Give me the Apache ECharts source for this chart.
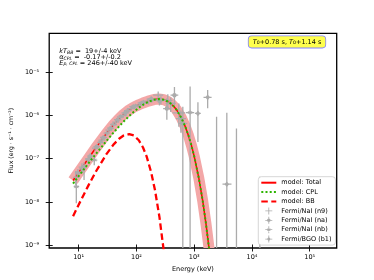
<!DOCTYPE html>
<html><head><meta charset="utf-8">
<script src="https://cdn.jsdelivr.net/npm/echarts@6/dist/echarts.min.js"></script>
<style>html,body{margin:0;padding:0;background:#fff}#c{width:374px;height:280px}</style>
</head><body><div id="c"></div>
<script>
// ---- axis limits (keV, flux) and tick exponents ----
const xLimits = [3.09, 2.93e5];
const yLimits = [8.57e-10, 8.0e-5];
const xTickExp = [1, 2, 3, 4, 5];
const yTickExp = [-9, -8, -7, -6, -5];

// ---- models ----
const modelE   = [8, 10, 15, 20, 30, 40, 50, 60, 75, 90, 110, 130, 160, 200, 246, 300, 350, 400, 450, 500, 600, 700, 800, 900, 1000, 1200, 1400, 1600, 1800, 2000];
const totalFlux= [3.13e-8, 4.81e-8, 1.051e-7, 1.817e-7, 3.80e-7, 6.12e-7, 8.47e-7, 1.068e-6, 1.345e-6, 1.563e-6, 1.777e-6, 1.952e-6, 2.156e-6, 2.336e-6, 2.403e-6, 2.31e-6, 2.11e-6, 1.856e-6, 1.59e-6, 1.325e-6, 8.8e-7, 5.54e-7, 3.36e-7, 1.98e-7, 1.14e-7, 3.6e-8, 1.08e-8, 3.1e-9, 8.7e-10, 2.4e-10];
const cplFlux  = [2.66e-8, 3.95e-8, 8.0e-8, 1.305e-7, 2.54e-7, 4.0e-7, 5.58e-7, 7.24e-7, 9.73e-7, 1.217e-6, 1.51e-6, 1.77e-6, 2.07e-6, 2.31e-6, 2.40e-6, 2.31e-6, 2.11e-6, 1.856e-6, 1.59e-6, 1.325e-6, 8.8e-7, 5.54e-7, 3.36e-7, 1.98e-7, 1.14e-7, 3.6e-8, 1.08e-8, 3.1e-9, 8.7e-10, 2.4e-10];
const bbE      = [8, 10, 15, 20, 30, 40, 50, 60, 75, 90, 110, 130, 150, 180, 210, 250, 300, 330];
const bbFlux   = [4.67e-9, 8.6e-9, 2.51e-8, 5.12e-8, 1.256e-7, 2.12e-7, 2.89e-7, 3.44e-7, 3.72e-7, 3.46e-7, 2.67e-7, 1.82e-7, 1.13e-7, 4.82e-8, 1.84e-8, 4.5e-9, 6.7e-10, 2.0e-10];

// ---- data: Fermi/NaI (n9) ----
const n9E     = [8.9, 11.4, 14.9, 19.3, 25.3, 33.2, 43.6, 58.3, 80.3, 113, 162, 238, 349, 542];
const n9Edges = [8, 10, 13, 17, 22, 29, 38, 50, 68, 95, 135, 195, 290, 420, 700];
const n9F     = [3.7e-8, 6.4e-8, 1.0e-7, 1.75e-7, 2.7e-7, 4.6e-7, 7.0e-7, 1.0e-6, 1.45e-6, 1.75e-6, 2.15e-6, 2.95e-6, 2.25e-6, 1.15e-6];
const n9Lo    = [2.4e-8, 5.0e-8, 8.3e-8, 1.5e-7, 2.35e-7, 4.0e-7, 6.1e-7, 8.8e-7, 1.27e-6, 1.5e-6, 1.8e-6, 2.3e-6, 1.5e-6, 5.5e-7];
const n9Hi    = [5.2e-8, 7.8e-8, 1.18e-7, 2.0e-7, 3.05e-7, 5.2e-7, 7.9e-7, 1.13e-6, 1.63e-6, 2.0e-6, 2.5e-6, 3.6e-6, 3.1e-6, 1.9e-6];
// ---- Fermi/NaI (na) ----
const naE     = [9.7, 12.4, 15.9, 20.6, 27, 35.7, 47.5, 64.2, 88.7, 125.5, 180, 250, 336, 455, 635];
const naEdges = [8.6, 11, 14, 18, 23.5, 31, 41, 55, 75, 105, 150, 215, 290, 390, 530, 760];
const naF     = [4.7e-8, 6.5e-8, 1.15e-7, 1.9e-7, 3.1e-7, 5.1e-7, 8.0e-7, 1.15e-6, 1.6e-6, 1.95e-6, 2.4e-6, 2.2e-6, 1.45e-6, 2.95e-6, 6.6e-7];
const naLo    = [3.6e-8, 3.2e-8, 9.5e-8, 1.65e-7, 2.7e-7, 4.5e-7, 7.1e-7, 1.02e-6, 1.42e-6, 1.7e-6, 2.0e-6, 1.7e-6, 8.0e-7, 1.75e-6, 1e-11];
const naHi    = [5.8e-8, 8.3e-8, 1.35e-7, 2.15e-7, 3.5e-7, 5.7e-7, 8.9e-7, 1.28e-6, 1.78e-6, 2.2e-6, 2.8e-6, 2.7e-6, 2.5e-6, 4.6e-6, 1.6e-6];
// ---- Fermi/NaI (nb) ----
const nbE     = [9.1, 11.5, 14.6, 18.6, 23.8, 30.7, 40.1, 53, 70.7, 95.8, 131.8, 184.7, 265, 392, 588, 849];
const nbEdges = [8.2, 10.2, 13, 16.5, 21, 27, 35, 46, 61, 82, 112, 155, 220, 320, 480, 720, 1000];
const nbF     = [2.25e-8, 5.8e-8, 9.5e-8, 9.3e-8, 2.4e-7, 3.9e-7, 6.2e-7, 9.3e-7, 1.3e-6, 1.65e-6, 2.0e-6, 2.35e-6, 2.3e-6, 1.9e-6, 8.5e-7, 1.17e-6];
const nbLo    = [9.3e-9, 4.6e-8, 8.0e-8, 7.1e-8, 2.05e-7, 3.4e-7, 5.5e-7, 8.3e-7, 1.16e-6, 1.46e-6, 1.75e-6, 2.0e-6, 1.8e-6, 1.2e-6, 4.0e-7, 1e-11];
const nbHi    = [3.2e-8, 7.0e-8, 1.1e-7, 1.15e-7, 2.75e-7, 4.4e-7, 6.9e-7, 1.03e-6, 1.44e-6, 1.84e-6, 2.25e-6, 2.7e-6, 2.8e-6, 2.6e-6, 1.3e-6, 4.7e-6];
// ---- Fermi/BGO (b1) ----
const b1E     = [1160, 1710, 2440, 3670, 5390, 13700];
const b1ELo   = [1030, 1450, 2100, 3090, 4600, 11500];
const b1EHi   = [1300, 2000, 2850, 4420, 6300, 16500];
const b1F     = [1.12e-6, 2.63e-6, 3e-10, 2.57e-8, 3e-10, 3e-10];
const b1Lo    = [2.45e-7, 1.48e-6, 1e-11, 1e-11, 1e-11, 1e-11];
const b1Hi    = [2.04e-6, 3.9e-6, 9.3e-7, 1.16e-6, 5.0e-7, 3.8e-8];

const L = Math.log10;
const FONT = 'DejaVu Sans';
const GRAY = '#ababab';
const SUP = {'0':'⁰','1':'¹','2':'²','3':'³','4':'⁴','5':'⁵','6':'⁶','7':'⁷','8':'⁸','9':'⁹','-':'⁻'};
const pow10 = v => '10' + String(Math.round(v)).split('').map(c => SUP[c]).join('');

function pts(E, F) { return E.map((e, i) => [L(e), L(F[i])]); }
function errData(E, F, lo, hi, eLo, eHi) {
  return E.map((e, i) => [L(e), L(F[i]), L(lo[i]), L(hi[i]), L(eLo[i]), L(eHi[i])]);
}
function makeErr(marker) {
  return function (params, api) {
    const p = api.coord([api.value(0), api.value(1)]);
    const a = api.coord([api.value(0), api.value(2)]);
    const b = api.coord([api.value(0), api.value(3)]);
    const l = api.coord([api.value(4), api.value(1)]);
    const r = api.coord([api.value(5), api.value(1)]);
    const st = {stroke: GRAY, lineWidth: 1.3};
    const ch = [
      {type: 'line', shape: {x1: a[0], y1: a[1], x2: b[0], y2: b[1]}, style: st},
      {type: 'line', shape: {x1: l[0], y1: l[1], x2: r[0], y2: r[1]}, style: st}
    ];
    const x = p[0], y = p[1];
    if (marker === 'circle') ch.push({type: 'circle', shape: {cx: x, cy: y, r: 2.2}, style: {fill: GRAY}});
    if (marker === 'diamond') ch.push({type: 'polygon', shape: {points: [[x, y - 2.8], [x + 2.3, y], [x, y + 2.8], [x - 2.3, y]]}, style: {fill: GRAY}});
    if (marker === 'star') {
      const s = [];
      for (let k = 0; k < 12; k++) {
        const ang = k * Math.PI / 6, rr = k % 2 ? 1.2 : 3;
        s.push([x + rr * Math.sin(ang), y - rr * Math.cos(ang)]);
      }
      ch.push({type: 'polygon', shape: {points: s}, style: {fill: GRAY}});
    }
    return {type: 'group', children: ch};
  };
}

const PLUS = 'M0,4.4H10V5.6H0Z M4.4,0H5.6V10H4.4Z';
const icons = {
  n9: 'path://' + PLUS,
  na: 'path://' + PLUS + ' M7.6,5A2.6,2.6 0 1 1 2.4,5A2.6,2.6 0 1 1 7.6,5Z',
  nb: 'path://' + PLUS + ' M5,1.8L5.8,3.6L7.8,3.4L6.5,5L7.8,6.6L5.8,6.4L5,8.2L4.2,6.4L2.2,6.6L3.5,5L2.2,3.4L4.2,3.6Z',
  b1: 'path://' + PLUS + ' M5,1.7L7.6,5L5,8.3L2.4,5Z'
};
const noSym = {color: 'rgba(0,0,0,0)', borderColor: 'rgba(0,0,0,0)', borderWidth: 0, opacity: 0};

const chart = echarts.init(document.getElementById('c'), null, {renderer: 'canvas'});
const xMin = L(xLimits[0]), xMax = L(xLimits[1]);
const yMin = L(yLimits[0]), yMax = L(yLimits[1]);
const tickStyle = {color: '#000', width: 0.9};
const lblStyle = {fontSize: 6.5, color: '#000', fontFamily: FONT};

const option = {
  animation: false,
  backgroundColor: '#fff',
  grid: {left: 47, right: 37.3, top: 33.3, bottom: 32, show: true, borderColor: '#000', borderWidth: 1.3, backgroundColor: 'transparent'},
  xAxis: [{
    type: 'value', min: xMin, max: xMax,
    axisLine: {show: false}, splitLine: {show: false},
    axisTick: {show: true, customValues: xTickExp, length: 3.5, lineStyle: tickStyle},
    axisLabel: Object.assign({customValues: xTickExp, formatter: pow10, margin: 5.5}, lblStyle),
    name: 'Energy (keV)', nameLocation: 'middle', nameGap: 16.5,
    nameTextStyle: {fontSize: 6.5, color: '#000', fontFamily: FONT}
  }, {
    type: 'value', min: xMin, max: xMax, position: 'bottom',
    axisLine: {show: false}, splitLine: {show: false},
    axisTick: {show: true, inside: true, customValues: xTickExp, length: 3.5, lineStyle: tickStyle},
    axisLabel: {show: false}
  }],
  yAxis: [{
    type: 'value', min: yMin, max: yMax,
    axisLine: {show: false}, splitLine: {show: false},
    axisTick: {show: true, customValues: yTickExp, length: 3.5, lineStyle: tickStyle},
    axisLabel: Object.assign({customValues: yTickExp, formatter: pow10, margin: 10}, lblStyle),
    name: 'Flux (erg · s⁻¹ · cm⁻²)', nameLocation: 'middle', nameGap: 26.5,
    nameTextStyle: {fontSize: 6.2, color: '#000', fontFamily: FONT}
  }, {
    type: 'value', min: yMin, max: yMax, position: 'left',
    axisLine: {show: false}, splitLine: {show: false},
    axisTick: {show: true, inside: true, customValues: yTickExp, length: 3.5, lineStyle: tickStyle},
    axisLabel: {show: false}
  }],
  legend: {
    orient: 'vertical', left: 258.3, top: 176.7,
    itemWidth: 15, itemHeight: 7, itemGap: 2.4,
    padding: [2.5, 4, 2.5, 2],
    backgroundColor: '#fff', borderColor: '#cccccc', borderWidth: 0.8, borderRadius: 3,
    textStyle: {fontSize: 6.5, fontFamily: FONT, color: '#000', lineHeight: 7},
    data: [
      {name: 'model: Total', itemStyle: noSym},
      {name: 'model: CPL', itemStyle: noSym},
      {name: 'model: BB', itemStyle: noSym},
      {name: 'Fermi/NaI (n9)', icon: icons.n9},
      {name: 'Fermi/NaI (na)', icon: icons.na},
      {name: 'Fermi/NaI (nb)', icon: icons.nb},
      {name: 'Fermi/BGO (b1)', icon: icons.b1}
    ]
  },
  graphic: [
    {type: 'text', x: 59.3, y: 51.7, z: 10, style: {
      text: '{i|kT}{s|BB}{n| =  19+/-4 keV}', verticalAlign: 'middle', align: 'left',
      rich: {i: {fontSize: 6.5, fontStyle: 'italic', fontFamily: FONT, lineHeight: 7},
             s: {fontSize: 4.6, fontStyle: 'italic', fontFamily: FONT, lineHeight: 4, verticalAlign: 'bottom'},
             n: {fontSize: 6.5, fontFamily: FONT, lineHeight: 7}}}},
    {type: 'text', x: 59.3, y: 57.3, z: 10, style: {
      text: '{i|α}{s|CPL}{n| =  -0.17+/-0.2}', verticalAlign: 'middle', align: 'left',
      rich: {i: {fontSize: 6.5, fontStyle: 'italic', fontFamily: FONT, lineHeight: 7},
             s: {fontSize: 4.6, fontStyle: 'italic', fontFamily: FONT, lineHeight: 4, verticalAlign: 'bottom'},
             n: {fontSize: 6.5, fontFamily: FONT, lineHeight: 7}}}},
    {type: 'text', x: 59.3, y: 62.9, z: 10, style: {
      text: '{i|E}{s|p, CPL}{n| = 246+/-40 keV}', verticalAlign: 'middle', align: 'left',
      rich: {i: {fontSize: 6.5, fontStyle: 'italic', fontFamily: FONT, lineHeight: 7},
             s: {fontSize: 4.6, fontStyle: 'italic', fontFamily: FONT, lineHeight: 4, verticalAlign: 'bottom'},
             n: {fontSize: 6.5, fontFamily: FONT, lineHeight: 7}}}},
    {type: 'text', x: 287, y: 41.9, z: 10, style: {
      text: '{i|T}{s|0}{n|+0.78 s, }{i|T}{s|0}{n|+1.14 s}', align: 'center', verticalAlign: 'middle',
      backgroundColor: '#ffff4d', borderColor: '#8080ff', borderWidth: 0.8, borderRadius: 3,
      padding: [2.2, 4, 2.2, 4],
      rich: {i: {fontSize: 6.5, fontStyle: 'italic', fontFamily: FONT, lineHeight: 7},
             s: {fontSize: 4.6, fontFamily: FONT, lineHeight: 4, verticalAlign: 'bottom'},
             n: {fontSize: 6.5, fontFamily: FONT, lineHeight: 7}}}}
  ],
  series: [
    {type: 'custom', name: 'band', silent: true, clip: true, z: 1,
     data: [[1, -6]],
     renderItem: (params, api) => ({
       type: 'polyline',
       shape: {points: modelE.map((e, i) => api.coord([L(e), L(totalFlux[i])]))},
       style: {stroke: '#f3a7a7', lineWidth: 11, fill: null, lineJoin: 'round', lineCap: 'butt'}
     })},
    {type: 'line', name: 'model: Total', data: pts(modelE, totalFlux), symbol: 'none', z: 2,
     color: '#ff0000', lineStyle: {color: '#ff0000', width: 1.5}},
    {type: 'custom', name: 'Fermi/NaI (n9)', clip: true, z: 3, itemStyle: {color: GRAY},
     data: errData(n9E, n9F, n9Lo, n9Hi, n9Edges.slice(0, -1), n9Edges.slice(1)), renderItem: makeErr('none')},
    {type: 'custom', name: 'Fermi/NaI (na)', clip: true, z: 3, itemStyle: {color: GRAY},
     data: errData(naE, naF, naLo, naHi, naEdges.slice(0, -1), naEdges.slice(1)), renderItem: makeErr('circle')},
    {type: 'custom', name: 'Fermi/NaI (nb)', clip: true, z: 3, itemStyle: {color: GRAY},
     data: errData(nbE, nbF, nbLo, nbHi, nbEdges.slice(0, -1), nbEdges.slice(1)), renderItem: makeErr('star')},
    {type: 'custom', name: 'Fermi/BGO (b1)', clip: true, z: 3, itemStyle: {color: GRAY},
     data: errData(b1E, b1F, b1Lo, b1Hi, b1ELo, b1EHi), renderItem: makeErr('diamond')},
    {type: 'line', name: 'model: CPL', data: pts(modelE, cplFlux), symbol: 'none', z: 4,
     color: '#2db400', lineStyle: {color: '#2db400', width: 2, type: [2, 2.2]}},
    {type: 'line', name: 'model: BB', data: pts(bbE, bbFlux), symbol: 'none', z: 4,
     color: '#ff0000', lineStyle: {color: '#ff0000', width: 2.3, type: [6.5, 3.5]}}
  ]
};
chart.setOption(option);
</script>
</body></html>
